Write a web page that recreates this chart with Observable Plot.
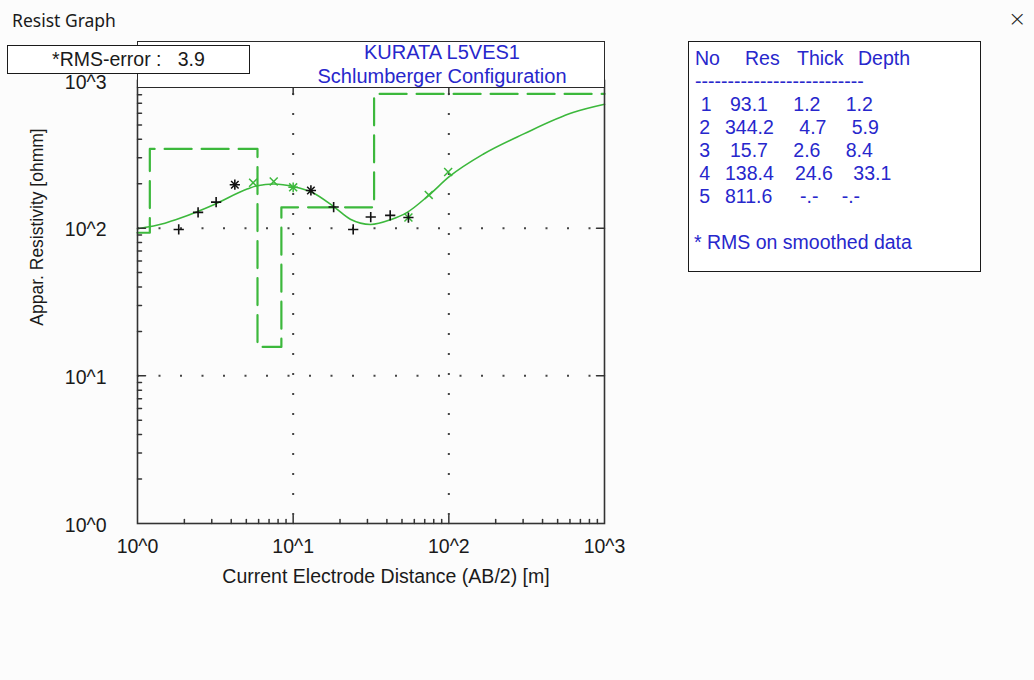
<!DOCTYPE html>
<html>
<head>
<meta charset="utf-8">
<script src="https://cdn.jsdelivr.net/npm/d3@7"></script>
<script src="https://cdn.jsdelivr.net/npm/@observablehq/plot@0.6"></script>
<style>
  html, body { margin: 0; padding: 0; background: #fcfcfc; }
  #wrap { position: relative; width: 1034px; height: 680px; overflow: hidden;
          font-family: "Liberation Sans", Arial, sans-serif; }
  #wrap svg { position: absolute; left: 0; top: 0; }
  .abs { position: absolute; white-space: pre; line-height: 23px; font-size: 19.5px; }
  .box { position: absolute; box-sizing: border-box; background: #ffffff; border: 1.5px solid #2a2a2a; }
  .blue { color: #2727cc; }
</style>
</head>
<body>
<div id="wrap"></div>
<script>
// ---------- data ----------
const windowTitle = "Resist Graph";
const chartTitle1 = "KURATA L5VES1";
const chartTitle2 = "Schlumberger Configuration";
const rmsError = 3.9;
const xTitle = "Current Electrode Distance (AB/2) [m]";
const yTitle = "Appar. Resistivity [ohmm]";

const decadeTicks = [1, 10, 100, 1000];
const majorInner = [10, 100];
const minorTicks = [2,3,4,5,6,7,8,9,20,30,40,50,60,70,80,90,200,300,400,500,600,700,800,900];

// layered model
const layerNo    = [1, 2, 3, 4, 5];
const layerRes   = [93.1, 344.2, 15.7, 138.4, 811.6];
const layerThick = [1.2, 4.7, 2.6, 24.6, null];
const layerDepth = [1.2, 5.9, 8.4, 33.1, null];

// calculated (smooth) response curve
const curveX = [1, 1.5, 1.89, 3.09, 5.06, 5.88, 7.5, 10.1, 13.2, 18.2, 23.3, 31.4, 42.2, 54, 74.3, 101, 167, 303, 634, 1000];
const curveY = [99, 108, 117, 144, 184, 194, 199, 191, 175, 140, 115, 106, 114, 128, 167, 224, 318, 435, 609, 690];

// field data (black +)
const obsX = [1.84, 2.45, 3.2, 4.22, 13, 18.2, 24.3, 31.5, 42, 55];
const obsY = [98, 128, 150, 197, 180, 139, 98, 119, 122, 118];
// smoothed data (green x)
const smX = [5.53, 7.5, 10, 55, 74.3, 99];
const smY = [203, 207, 189, 118, 168, 240];
// coincident points drawn as black asterisks
const bothX = [4.22, 13];
const bothY = [197, 180];
// green asterisk point
const gAstX = [10];
const gAstY = [189];

// ---------- layout constants (not data) ----------
const tableCellLeft = [
  [700.7, 730, 793.3, 845.7],
  [699.3, 725, 799.3, 851.7],
  [699.3, 730, 793.3, 845.7],
  [699.3, 725, 795, 853.3],
  [699.3, 725, 800, 841.7]
];

// ---------- build ----------
const green = "#3cb83c";
const fmtPow = d => "10^" + Math.round(Math.log10(d));
const pts = (xs, ys) => xs.map((x, i) => ({x, y: ys[i]}));

const stepData = layerRes.map((r, i) => ({x: i === 0 ? 1 : layerDepth[i - 1], y: r}));
stepData.push({x: 1000, y: layerRes[layerRes.length - 1]});

const tickShape = {draw(ctx, l) { ctx.moveTo(0, 0); ctx.lineTo(0, -l); }};
const tickOpts = {shape: tickShape, anchor: "start", stroke: "#333", strokeWidth: 1.5};

const chart = Plot.plot({
  width: 1034,
  height: 680,
  marginTop: 80,
  marginBottom: 157,
  marginLeft: 137,
  marginRight: 430,
  x: {type: "log", domain: [1, 1000], label: null},
  y: {type: "log", domain: [1, 1000], label: null},
  style: {fontFamily: "'Liberation Sans', Arial, sans-serif", fontSize: "19.5px", background: "transparent", color: "#1a1a1a", overflow: "visible"},
  marks: [
    // dotted grid
    Plot.ruleX(majorInner, {stroke: "#444", strokeWidth: 2, strokeDasharray: "2,18", strokeDashoffset: 7}),
    Plot.ruleY(majorInner, {stroke: "#444", strokeWidth: 2, strokeDasharray: "2,19.5", strokeDashoffset: 0}),
    // model
    Plot.line(stepData, {x: "x", y: "y", curve: "step-after", stroke: green, strokeWidth: 2.2, strokeDasharray: "27,10"}),
    // response curve
    Plot.line(pts(curveX, curveY), {x: "x", y: "y", curve: "monotone-x", stroke: green, strokeWidth: 1.6}),
    // markers
    Plot.dot(pts(smX, smY), {x: "x", y: "y", symbol: "times", r: 3.7, stroke: green, strokeWidth: 1.5}),
    Plot.dot(pts(gAstX, gAstY), {x: "x", y: "y", symbol: "plus", r: 3.2, stroke: green, strokeWidth: 1.5}),
    Plot.dot(pts(obsX, obsY), {x: "x", y: "y", symbol: "plus", r: 3.4, stroke: "#111", strokeWidth: 1.6}),
    Plot.dot(pts(bothX, bothY), {x: "x", y: "y", symbol: "times", r: 3.5, stroke: "#111", strokeWidth: 1.5}),
    // inward ticks
    Plot.vector(minorTicks, {...tickOpts, x: d => d, frameAnchor: "bottom", rotate: 0, length: 4}),
    Plot.vector(minorTicks, {...tickOpts, y: d => d, frameAnchor: "left", rotate: 90, length: 4}),
    Plot.vector(majorInner, {...tickOpts, x: d => d, frameAnchor: "bottom", rotate: 0, length: 8}),
    Plot.vector(majorInner, {...tickOpts, x: d => d, frameAnchor: "top", rotate: 180, length: 14}),
    Plot.vector(majorInner, {...tickOpts, y: d => d, frameAnchor: "left", rotate: 90, length: 8}),
    Plot.vector(majorInner, {...tickOpts, y: d => d, frameAnchor: "right", rotate: -90, length: 8}),
    // tick labels
    Plot.axisX(decadeTicks, {anchor: "bottom", tickSize: 0, tickPadding: 16, tickFormat: fmtPow, fill: "#1a1a1a", label: null}),
    Plot.axisY(decadeTicks, {anchor: "left", tickSize: 0, tickPadding: 31, tickFormat: fmtPow, fill: "#1a1a1a", label: null, dy: 2}),
    Plot.frame({stroke: "#333", strokeWidth: 1.6})
  ]
});

const wrap = document.getElementById("wrap");
wrap.appendChild(chart);

function addDiv(cls, styles, text) {
  const d = document.createElement("div");
  d.className = cls;
  Object.assign(d.style, styles);
  if (text != null) d.textContent = text;
  wrap.appendChild(d);
  return d;
}

// window title bar
addDiv("abs", {left: "12px", top: "7px", fontFamily: "'Noto Sans', 'Open Sans', sans-serif", fontSize: "17.5px", color: "#1a1a1a", lineHeight: "26px"}, windowTitle);
addDiv("abs", {left: "1008px", top: "6px", fontFamily: "'DejaVu Sans', sans-serif", fontSize: "22px", color: "#222", lineHeight: "26px", fontWeight: "300"}, "\u00d7");

// title box (covers top of plot)
addDiv("box", {left: "136.5px", top: "40.5px", width: "468px", height: "47px"});
addDiv("abs blue", {left: "442px", top: "40.5px", fontSize: "20px", transform: "translateX(-50%)"}, chartTitle1);
addDiv("abs blue", {left: "442px", top: "64.5px", fontSize: "20px", transform: "translateX(-50%)"}, chartTitle2);

// RMS box
addDiv("box", {left: "7px", top: "45px", width: "243px", height: "29px", borderColor: "#1a1a1a"});
addDiv("abs", {left: "7px", top: "48px", width: "243px", textAlign: "center", color: "#1a1a1a"}, "*RMS-error :   " + rmsError.toFixed(1));

// axis titles
addDiv("abs", {left: "386px", top: "564.5px", transform: "translateX(-50%)", color: "#1a1a1a"}, xTitle);
addDiv("abs", {left: "37px", top: "227px", fontSize: "17.5px", transform: "translate(-50%,-50%) rotate(-90deg)", color: "#1a1a1a"}, yTitle);

// layer table
addDiv("box", {left: "688px", top: "41px", width: "293px", height: "231px", borderColor: "#1a1a1a"});
const headers = ["No", "Res", "Thick", "Depth"];
const headerLeft = [695, 745, 797, 858];
headers.forEach((h, i) => addDiv("abs blue", {left: headerLeft[i] + "px", top: "46.5px"}, h));
addDiv("abs blue", {left: "695px", top: "69.5px"}, "-".repeat(26));
const fmtCell = v => v == null ? "-.-" : v.toFixed(1);
layerNo.forEach((n, r) => {
  const cells = [String(n), fmtCell(layerRes[r]), fmtCell(layerThick[r]), fmtCell(layerDepth[r])];
  cells.forEach((c, j) => addDiv("abs blue", {left: tableCellLeft[r][j] + "px", top: (92.5 + 23 * r) + "px"}, c));
});
addDiv("abs blue", {left: "694px", top: "230.5px"}, "* RMS on smoothed data");
</script>
</body>
</html>
